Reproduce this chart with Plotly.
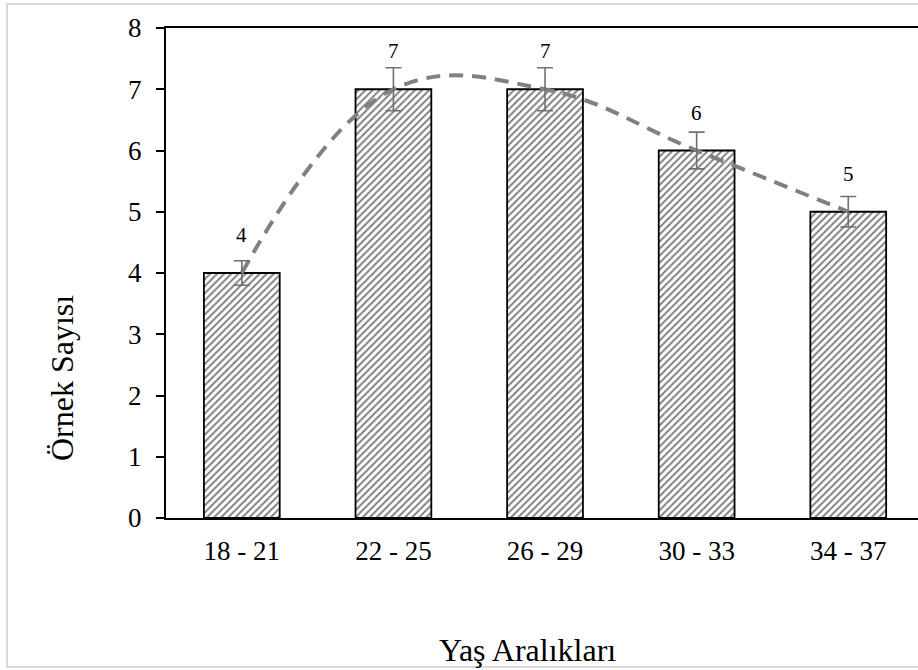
import plotly.graph_objects as go

categories = ["18 - 21", "22 - 25", "26 - 29", "30 - 33", "34 - 37"]
counts = [4, 7, 7, 6, 5]
errors = [0.2, 0.35, 0.35, 0.3, 0.25]
y_ticks = [0, 1, 2, 3, 4, 5, 6, 7, 8]
x_title = "Yaş Aralıkları"
y_title = "Örnek Sayısı"

FONT = "Liberation Serif, Times New Roman, serif"

fig = go.Figure()
fig.add_trace(go.Bar(
    x=categories, y=counts, width=0.5,
    marker=dict(color="white", line=dict(color="black", width=1.8),
                pattern=dict(shape="/", fgcolor="black", bgcolor="white", size=5, solidity=0.4)),
    showlegend=False, hoverinfo="skip",
))
fig.add_trace(go.Scatter(
    x=categories, y=counts, mode="lines",
    line=dict(color="#808080", width=4, dash="14px,9px", shape="spline", smoothing=1.15),
    showlegend=False, hoverinfo="skip",
))
fig.add_trace(go.Scatter(
    x=categories, y=counts, mode="markers",
    marker=dict(size=1, color="rgba(0,0,0,0)"),
    error_y=dict(type="data", array=errors, visible=True, color="#707070", thickness=1.6, width=8),
    showlegend=False, hoverinfo="skip",
))
for c, v in zip(categories, counts):
    fig.add_annotation(x=c, y=v, text=str(v), showarrow=False, yanchor="bottom", yshift=24,
                       font=dict(family=FONT, size=21, color="black"))

fig.add_annotation(x=(527 - 166) / 752, xref="paper", y=-0.269, yref="paper", text=x_title,
                   showarrow=False, font=dict(family=FONT, size=32, color="black"),
                   xanchor="center", yanchor="middle")
fig.add_annotation(x=(62 - 166) / 752, xref="paper", y=(518 - 378) / 490, yref="paper", text=y_title,
                   showarrow=False, textangle=-90, font=dict(family=FONT, size=32, color="black"),
                   xanchor="center", yanchor="middle")

fig.add_shape(type="rect", xref="paper", yref="paper",
              x0=(7 - 166) / 752, x1=1.05, y0=(518 - 667) / 490, y1=(518 - 4) / 490,
              line=dict(color="#d9d9d9", width=2), fillcolor="rgba(0,0,0,0)", layer="below")

fig.update_layout(
    width=918, height=670,
    margin=dict(l=166, r=0, t=28, b=152),
    plot_bgcolor="white", paper_bgcolor="white",
    font=dict(family=FONT, size=27, color="black"),
    hovermode=False,
    xaxis=dict(range=[-0.5, 4.46], showline=True, linecolor="black", linewidth=2, mirror=True,
               ticks="", showgrid=False, tickfont=dict(size=27), ticklabelstandoff=8),
    yaxis=dict(range=[0, 8], tickvals=y_ticks, showline=True, linecolor="black", linewidth=2,
               ticks="outside", ticklen=8, tickwidth=2, tickcolor="black", showgrid=False,
               tickfont=dict(size=27), ticklabelstandoff=9),
)

fig.write_html("out.html", config={"displayModeBar": False},
               post_script="document.body.style.margin='0';document.body.style.overflow='hidden';")
